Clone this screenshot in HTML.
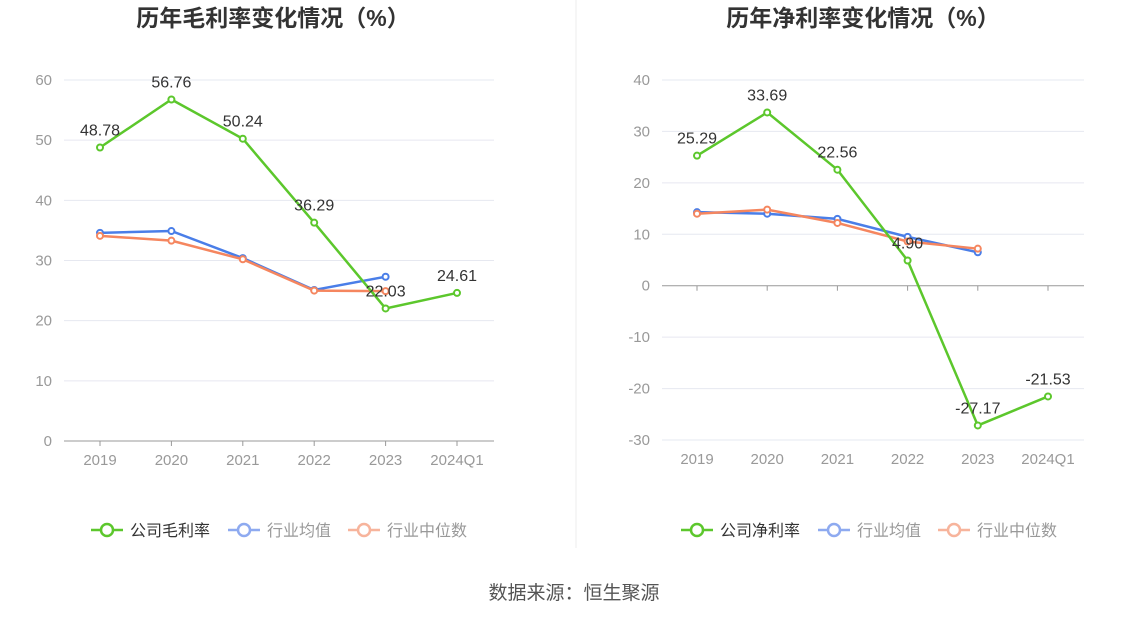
<!DOCTYPE html>
<html><head><meta charset="utf-8">
<style>
body{margin:0;background:#fff;font-family:"Liberation Sans","Noto Sans CJK SC",sans-serif;}
svg{display:block}
</style></head>
<body>
<svg id="c" width="1148" height="619" font-family="Liberation Sans, Noto Sans CJK SC, sans-serif"></svg>
<script>
const years=["2019","2020","2021","2022","2023","2024Q1"];
const grossCompany=[48.78,56.76,50.24,36.29,22.03,24.61];
const grossAvg=[34.6,34.9,30.4,25.1,27.3];
const grossMedian=[34.1,33.3,30.2,25.0,24.9];
const grossTicks=[0,10,20,30,40,50,60];
const netCompany=[25.29,33.69,22.56,4.90,-27.17,-21.53];
const netAvg=[14.3,14.0,13.0,9.5,6.5];
const netMedian=[14.0,14.8,12.2,8.6,7.2];
const netTicks=[-30,-20,-10,0,10,20,30,40];

const svg=document.getElementById('c');
const NS='http://www.w3.org/2000/svg';
function mk(tag,attrs,parent){const e=document.createElementNS(NS,tag);for(const k in attrs)e.setAttribute(k,attrs[k]);(parent||svg).appendChild(e);return e;}
function txt(x,y,s,attrs,parent){const t=mk('text',Object.assign({x:x,y:y},attrs),parent);t.textContent=s;return t;}

function drawChart(cfg){
  const g=mk('g',{});
  
  
  const ymin=cfg.ticks[0],ymax=cfg.ticks[cfg.ticks.length-1];
  const Y=v=>cfg.yBottom-(v-ymin)/(ymax-ymin)*(cfg.yBottom-cfg.yTop);
  const X=i=>cfg.x0+i*cfg.step;
  const tt=txt(cfg.titleX,26,cfg.title,{'font-size':23,'font-weight':'bold',fill:'#333','text-anchor':'middle'},g);
  
  cfg.ticks.forEach(v=>{
    const l=mk('line',{x1:cfg.left,x2:cfg.right,y1:Y(v),y2:Y(v),stroke:v===0?'#999':'#e6e8f0','stroke-width':1},g);
    
    const t=txt(cfg.left-12,Y(v)+5,String(v),{'font-size':15,fill:'#999','text-anchor':'end'},g);
    
  });
  const axY=cfg.axisY!==undefined?Y(cfg.axisY):cfg.yBottom;
  years.forEach((y,i)=>{
    const tk=mk('line',{x1:X(i),x2:X(i),y1:axY,y2:axY+5,stroke:'#999'},g);
    
    const t=txt(X(i),cfg.yBottom+24,y,{'font-size':15,fill:'#999','text-anchor':'middle'},g);
    
  });
  function series(vals,color,name,labels){
    const p=mk('polyline',{points:vals.map((v,i)=>X(i)+','+Y(v)).join(' '),fill:'none',stroke:color,'stroke-width':2.5},g);
    
    vals.forEach((v,i)=>{
      const c=mk('circle',{cx:X(i),cy:Y(v),r:3,fill:'#fff',stroke:color,'stroke-width':2},g);
      
      if(labels){const t=txt(X(i),Y(v)-12,v.toFixed(2),{'font-size':16,fill:'#333','text-anchor':'middle'},g);
        }
    });
  }
  series(cfg.avg,'#4a7ee8','industry-avg',false);
  series(cfg.median,'#f5865f','industry-median',false);
  series(cfg.company,'#5cc72c','company',true);
  const L=cfg.legendX;
  const items=[[cfg.compName,'#5cc72c',0],['行业均值','#8eaaf0',137],['行业中位数','#f7b49c',257]];
  items.forEach(([n,c,dx],k)=>{
    const lg=mk('g',{},g);
    mk('line',{x1:L+dx,x2:L+dx+32,y1:530,y2:530,stroke:c,'stroke-width':2.5},lg);
    mk('circle',{cx:L+dx+16,cy:530,r:6,fill:'#fff',stroke:c,'stroke-width':2.5},lg);
    txt(L+dx+39,536,n,{'font-size':16,fill:k===0?'#333':'#999'},lg);
  });
}
drawChart({name:'gross-margin-chart',title:'历年毛利率变化情况（%）',titleX:273,compName:'公司毛利率',ticks:grossTicks,yTop:80,yBottom:441,left:64,right:494,x0:100,step:71.4,company:grossCompany,avg:grossAvg,median:grossMedian,legendX:91});
drawChart({name:'net-margin-chart',title:'历年净利率变化情况（%）',titleX:863,compName:'公司净利率',ticks:netTicks,yTop:80,yBottom:440,left:662,right:1084,x0:697,step:70.2,axisY:0,company:netCompany,avg:netAvg,median:netMedian,legendX:681});
const d=mk('line',{x1:576,x2:576,y1:0,y2:548,stroke:'#eee'});

const s=txt(574,599,'数据来源：恒生聚源',{'font-size':19,fill:'#555','text-anchor':'middle'});

</script>
</body></html>
